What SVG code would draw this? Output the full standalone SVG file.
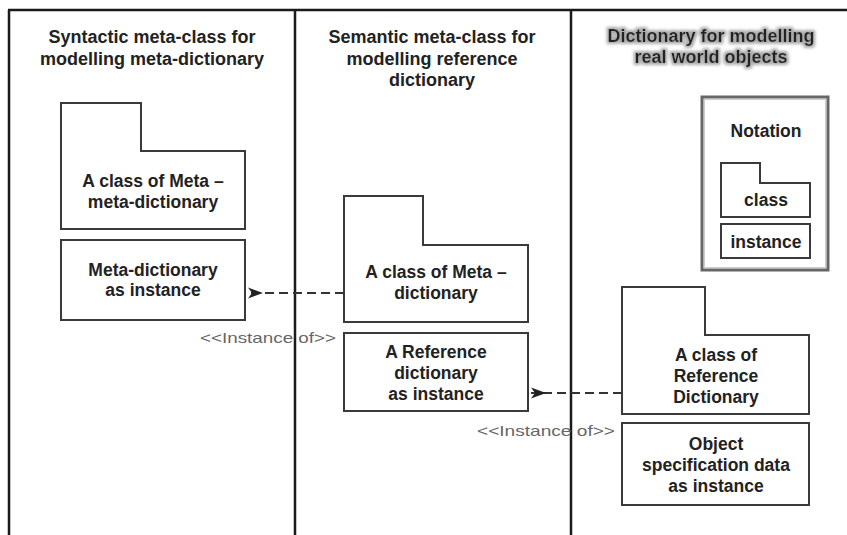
<svg xmlns="http://www.w3.org/2000/svg" width="847" height="535" viewBox="0 0 847 535">
<style>
  .frame { stroke: #1a1a1a; stroke-width: 2.5; fill: none; }
  .box { stroke: #3a3a3a; stroke-width: 2; fill: #fff; }
  .hdr { font-family: "Liberation Sans", Arial, sans-serif; font-weight: bold; font-size: 18px; fill: #222; text-anchor: middle; }
  .lbl { font-family: "Liberation Sans", Arial, sans-serif; font-weight: bold; font-size: 17.5px; fill: #222; text-anchor: middle; }
  .inst { font-family: "Liberation Sans", Arial, sans-serif; font-size: 15px; fill: #666; }
  .conn { stroke: #333; stroke-width: 1.8; stroke-dasharray: 9 5; fill: none; }
</style>
<defs>
  <marker id="arr" markerWidth="16" markerHeight="12" refX="15" refY="6" orient="auto" markerUnits="userSpaceOnUse">
    <path d="M0,6 L15,0.5 L11,6 L15,11.5 Z" fill="#222"/>
  </marker>
  <filter id="halo" x="-10%" y="-30%" width="120%" height="180%">
    <feMorphology in="SourceAlpha" operator="dilate" radius="2" result="d"/>
    <feGaussianBlur in="d" stdDeviation="1.5" result="b"/>
    <feFlood flood-color="#aaa"/>
    <feComposite in2="b" operator="in" result="s"/>
    <feMerge><feMergeNode in="s"/><feMergeNode in="SourceGraphic"/></feMerge>
  </filter>
</defs>
<rect width="847" height="535" fill="#fff"/>

<g id="frame">
  <line class="frame" x1="8" y1="10" x2="847" y2="10"/>
  <line class="frame" x1="9" y1="10" x2="9" y2="535"/>
  <line class="frame" x1="295" y1="10" x2="295" y2="535"/>
  <line class="frame" x1="571" y1="10" x2="571" y2="535"/>
</g>

<g id="headers">
  <text class="hdr" x="152" y="43">Syntactic meta-class for</text>
  <text class="hdr" x="152" y="65">modelling meta-dictionary</text>
  <text class="hdr" x="432" y="43">Semantic meta-class for</text>
  <text class="hdr" x="432" y="65">modelling reference</text>
  <text class="hdr" x="432" y="86">dictionary</text>
  <g filter="url(#halo)">
    <text class="hdr" x="711" y="42">Dictionary for modelling</text>
    <text class="hdr" x="711" y="63">real world objects</text>
  </g>
</g>

<g id="metaClass">
  <path class="box" d="M61,103 H141 V151 H245 V229 H61 Z"/>
  <text class="lbl" x="153" y="187">A class of Meta –</text>
  <text class="lbl" x="153" y="208">meta-dictionary</text>
</g>
<g id="metaInstance">
  <rect class="box" x="61" y="240" width="184" height="80"/>
  <text class="lbl" x="153" y="276">Meta-dictionary</text>
  <text class="lbl" x="153" y="296">as instance</text>
</g>

<g id="refClass">
  <path class="box" d="M344,196 H423 V245 H528 V322 H344 Z"/>
  <text class="lbl" x="436" y="278">A class of Meta –</text>
  <text class="lbl" x="436" y="299">dictionary</text>
</g>
<g id="refInstance">
  <rect class="box" x="344" y="333" width="184" height="78"/>
  <text class="lbl" x="436" y="358">A Reference</text>
  <text class="lbl" x="436" y="379">dictionary</text>
  <text class="lbl" x="436" y="400">as instance</text>
</g>

<g id="notation">
  <rect x="702" y="97" width="126" height="173" fill="#fff" stroke="#666" stroke-width="3"/>
  <rect x="704.5" y="99.5" width="121" height="168" fill="none" stroke="#ccc" stroke-width="1"/>
  <text class="lbl" x="766" y="137">Notation</text>
  <path class="box" d="M721,163 H760 V183 H810 V217 H721 Z"/>
  <text class="lbl" x="766" y="206">class</text>
  <rect class="box" x="721" y="224" width="89" height="34"/>
  <text class="lbl" x="766" y="248">instance</text>
</g>

<g id="objClass">
  <path class="box" d="M622,287 H705 V335 H809 V414 H622 Z" stroke-width="2.5"/>
  <text class="lbl" x="716" y="361">A class of</text>
  <text class="lbl" x="716" y="382">Reference</text>
  <text class="lbl" x="716" y="403">Dictionary</text>
</g>
<g id="objInstance">
  <rect class="box" x="622" y="423" width="187" height="82" stroke-width="2.5"/>
  <text class="lbl" x="716" y="450">Object</text>
  <text class="lbl" x="716" y="471">specification data</text>
  <text class="lbl" x="716" y="492">as instance</text>
</g>

<g id="connectors">
  <line class="conn" x1="344" y1="293" x2="248" y2="293" marker-end="url(#arr)"/>
  <text class="inst" x="200" y="343" textLength="136" lengthAdjust="spacingAndGlyphs">&lt;&lt;Instance of&gt;&gt;</text>
  <line class="conn" x1="622" y1="393" x2="531" y2="393" marker-end="url(#arr)"/>
  <text class="inst" x="477" y="436" textLength="138" lengthAdjust="spacingAndGlyphs">&lt;&lt;Instance of&gt;&gt;</text>
</g>
</svg>
